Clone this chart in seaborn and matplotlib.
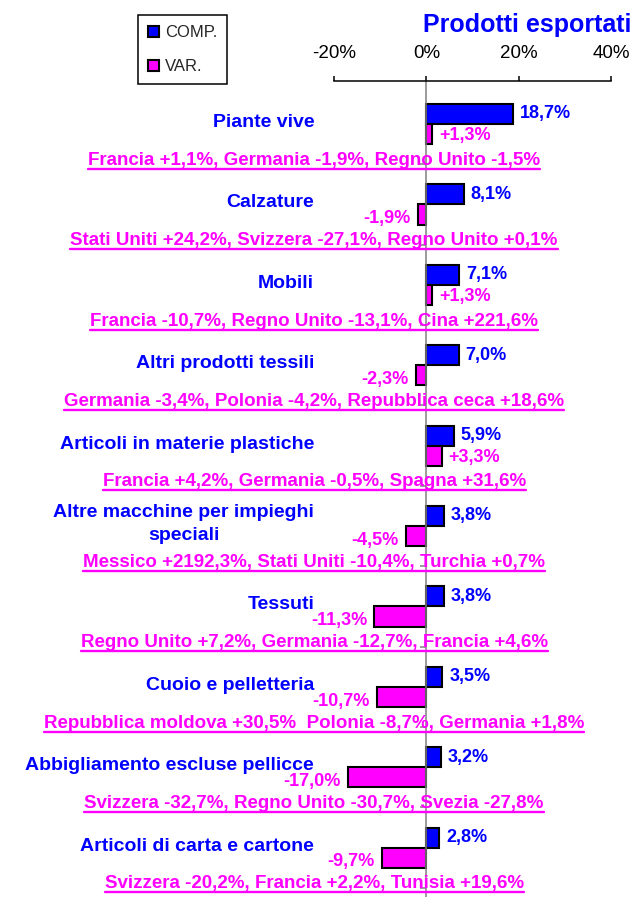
import numpy as np
import pandas as pd
import matplotlib
matplotlib.use('Agg')
import matplotlib.pyplot as plt
from matplotlib.lines import Line2D
import seaborn as sns

# Prodotti esportati: composizione (COMP.) e variazione (VAR.)
categorie = ['Piante vive', 'Calzature', 'Mobili', 'Altri prodotti tessili',
             'Articoli in materie plastiche', 'Altre macchine per impieghi\nspeciali',
             'Tessuti', 'Cuoio e pelletteria', 'Abbigliamento escluse pellicce',
             'Articoli di carta e cartone']
comp = [18.7, 8.1, 7.1, 7.0, 5.9, 3.8, 3.8, 3.5, 3.2, 2.8]
var = [1.3, -1.9, 1.3, -2.3, 3.3, -4.5, -11.3, -10.7, -17.0, -9.7]
paesi = ['Francia +1,1%, Germania -1,9%, Regno Unito -1,5%',
         'Stati Uniti +24,2%, Svizzera -27,1%, Regno Unito +0,1%',
         'Francia -10,7%, Regno Unito -13,1%, Cina +221,6%',
         'Germania -3,4%, Polonia -4,2%, Repubblica ceca +18,6%',
         'Francia +4,2%, Germania -0,5%, Spagna +31,6%',
         'Messico +2192,3%, Stati Uniti -10,4%, Turchia +0,7%',
         'Regno Unito +7,2%, Germania -12,7%, Francia +4,6%',
         'Repubblica moldova +30,5%  Polonia -8,7%, Germania +1,8%',
         'Svizzera -32,7%, Regno Unito -30,7%, Svezia -27,8%',
         'Svizzera -20,2%, Francia +2,2%, Tunisia +19,6%']
serie = ['COMP.', 'VAR.']
x_ticks = [-20, 0, 20, 40]

BLU = '#0000FF'
MAGENTA = '#FF00FF'

sns.set_style('white')
plt.rcParams['font.family'] = ['Liberation Sans', 'DejaVu Sans']

n = len(categorie)
df = pd.DataFrame({
    'categoria': categorie * 2,
    'valore': comp + var,
    'serie': [serie[0]] * n + [serie[1]] * n,
})

fig = plt.figure(figsize=(6.35, 8.97), dpi=100)
ax = fig.add_axes([334 / 635, 0, 277 / 635, 816 / 897])

sns.barplot(data=df, y='categoria', x='valore', hue='serie', orient='h',
            palette={serie[0]: BLU, serie[1]: MAGENTA}, saturation=1, width=0.5,
            edgecolor='black', linewidth=1.5, errorbar=None, ax=ax)

ax.set_xlim(-20, 40)
ax.set_ylim(n - 0.386, -0.535)
ax.set_xlabel('')
ax.set_ylabel('')

# asse x in alto
ax.xaxis.tick_top()
ax.set_xticks(x_ticks)
ax.set_xticklabels([f'{t}%' for t in x_ticks], fontsize=13.5)
ax.tick_params(axis='x', direction='out', length=3.5, width=1.1, pad=10, colors='black')
for s in ['bottom', 'right']:
    ax.spines[s].set_visible(False)
ax.spines['top'].set_color('black')
ax.spines['top'].set_linewidth(1.1)

# asse delle categorie sullo zero
ax.spines['left'].set_position(('data', 0))
ax.spines['left'].set_color('#808080')
ax.spines['left'].set_linewidth(1.1)
ax.set_yticks(range(n))
ax.set_yticklabels([])
ax.set_yticks(np.arange(n) + 0.5, minor=True)
ax.tick_params(axis='y', which='major', length=0)
ax.tick_params(axis='y', which='minor', left=True, direction='out', length=4.5,
               width=1.1, color='#808080')

# etichette dei valori
ax.bar_label(ax.containers[0], labels=[f'{v:.1f}%'.replace('.', ',') for v in comp],
             padding=5, color=BLU, fontsize=13, fontweight='bold')
for i, v in enumerate(var):
    ax.annotate(f'{v:+.1f}%'.replace('.', ','), xy=(v, i + 0.125),
                xytext=(5 if v >= 0 else -5, -1 if v >= 0 else -3),
                textcoords='offset points', ha='left' if v >= 0 else 'right',
                va='center', color=MAGENTA, fontsize=13, fontweight='bold')

# nomi delle categorie e principali paesi
testi_paesi = []
for i, (cat, pae) in enumerate(zip(categorie, paesi)):
    ax.text(-24.3, i - 0.02, cat, ha='right', va='center', multialignment='center',
            linespacing=1.45, color=BLU, fontsize=14, fontweight='bold')
    t = ax.text(-24.3, i + 0.45, pae, ha='center', va='center',
                color=MAGENTA, fontsize=13.5, fontweight='bold')
    testi_paesi.append(t)

# legenda
handles, labels = ax.get_legend_handles_labels()
ax.get_legend().remove()
leg = fig.legend(handles, labels, loc='upper left', bbox_to_anchor=(138 / 635, 1 - 15 / 897),
                 borderaxespad=0, fontsize=12, frameon=True, fancybox=False,
                 handlelength=0.65, handleheight=0.65, handletextpad=0.35,
                 labelspacing=1.15, borderpad=0.6)
leg.get_frame().set_edgecolor('black')
leg.get_frame().set_linewidth(1.1)
leg.get_frame().set_alpha(1)

# titolo
fig.text(0.995, 1 - 25 / 897, 'Prodotti esportati', ha='right', va='center',
         color=BLU, fontsize=18, fontweight='bold')

# sottolineatura dei testi dei paesi
fig.canvas.draw()
renderer = fig.canvas.get_renderer()
inv = fig.transFigure.inverted()
for t in testi_paesi:
    bb = t.get_window_extent(renderer)
    yc = (bb.y0 + bb.y1) / 2 - 8.5
    (x0, y0), (x1, y1) = inv.transform([(bb.x0, yc), (bb.x1, yc)])
    fig.add_artist(Line2D([x0, x1], [y0, y1], transform=fig.transFigure,
                          color=MAGENTA, linewidth=1.7))

fig.savefig('out.png', dpi=100)
